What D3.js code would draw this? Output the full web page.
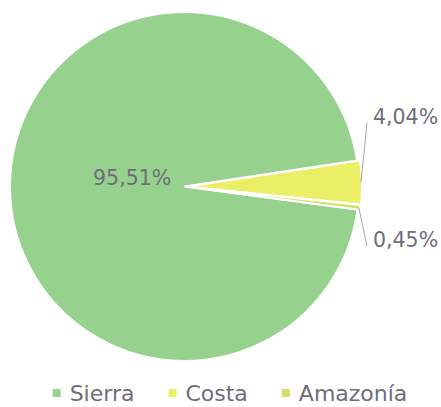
<!DOCTYPE html>
<html>
<head>
<meta charset="utf-8">
<script src="https://cdn.jsdelivr.net/npm/d3@7"></script>
<style>
  html, body { margin: 0; padding: 0; background: #fff; }
  svg { display: block; font-family: "DejaVu Sans", sans-serif; }
</style>
</head>
<body>
<div id="chart"></div>
<script>
// pie of share by region
const regions = ['Sierra', 'Costa', 'Amazonía'];
const shares = [95.51, 4.04, 0.45];
const colors = ['#96D18E', '#EBEF66', '#D6DE6A'];

const W = 441, H = 407;
const cx = 184.5, cy = 186.5, R = 174.5;
const TEXT = '#6E6E7A';

const locale = d3.formatLocale({ decimal: ',', thousands: '.', grouping: [3], currency: ['', ''] });
const pct = v => locale.format('.2f')(v) + '%';

const svg = d3.select('#chart').append('svg')
  .attr('width', W).attr('height', H)
  .attr('viewBox', `0 0 ${W} ${H}`);

const rows = regions.map((name, i) => ({ name, value: shares[i], color: colors[i] }));

const deg = Math.PI / 180;
const pie = d3.pie().value(d => d.value).sort(null)
  .startAngle(97.6 * deg).endAngle(97.6 * deg + 2 * Math.PI);
const arcs = pie(rows);
const arc = d3.arc().innerRadius(0).outerRadius(R);

// small pull-out for the two thin slices
const explode = [0, 3, 2];

const g = svg.append('g').attr('transform', `translate(${cx},${cy})`);

g.selectAll('path').data(arcs).join('path')
  .attr('d', arc)
  .attr('fill', d => d.data.color)
  .attr('stroke', '#fff')
  .attr('stroke-width', 2)
  .attr('stroke-linejoin', 'miter')
  .attr('transform', (d, i) => {
    const a = (d.startAngle + d.endAngle) / 2;
    return `translate(${Math.sin(a) * explode[i]},${-Math.cos(a) * explode[i]})`;
  });

// big slice label inside
const sierra = arcs[0];
const midS = (sierra.startAngle + sierra.endAngle) / 2;
g.append('text')
  .attr('x', Math.sin(midS) * R * 0.3)
  .attr('y', -Math.cos(midS) * R * 0.3 - 2)
  .attr('text-anchor', 'middle')
  .attr('fill', TEXT)
  .attr('font-size', 20.5)
  .text(pct(sierra.data.value));

// outside labels with leader lines
const leaderDy = [0, -60, 39];
arcs.slice(1).forEach((d, k) => {
  const i = k + 1;
  const a = (d.startAngle + d.endAngle) / 2;
  const r0 = R + explode[i] - 1;
  const x0 = Math.sin(a) * r0, y0 = -Math.cos(a) * r0;
  const x1 = R + 8, y1 = y0 + leaderDy[i];
  g.append('line')
    .attr('x1', x0).attr('y1', y0).attr('x2', x1).attr('y2', y1)
    .attr('stroke', '#A6A6A6').attr('stroke-width', 1);
  g.append('text')
    .attr('x', x1 + 6).attr('y', y1 + 1)
    .attr('fill', TEXT)
    .attr('font-size', 20.5)
    .text(pct(d.data.value));
});

// legend
const leg = svg.append('g').attr('transform', `translate(0,${H - 6})`);
const items = leg.selectAll('g').data(rows).join('g');
items.append('rect')
  .attr('width', 8).attr('height', 8)
  .attr('y', -12)
  .attr('fill', d => d.color);
items.append('text')
  .attr('x', 17)
  .attr('fill', TEXT)
  .attr('font-size', 22)
  .text(d => d.name);

let x = 0;
const pos = [];
items.each(function () {
  const w = 17 + this.querySelector('text').getComputedTextLength();
  pos.push(x);
  x += w + 34;
});
const total = x - 34;
const start = 230 - total / 2;
items.attr('transform', (d, i) => `translate(${start + pos[i]},0)`);
</script>
</body>
</html>
